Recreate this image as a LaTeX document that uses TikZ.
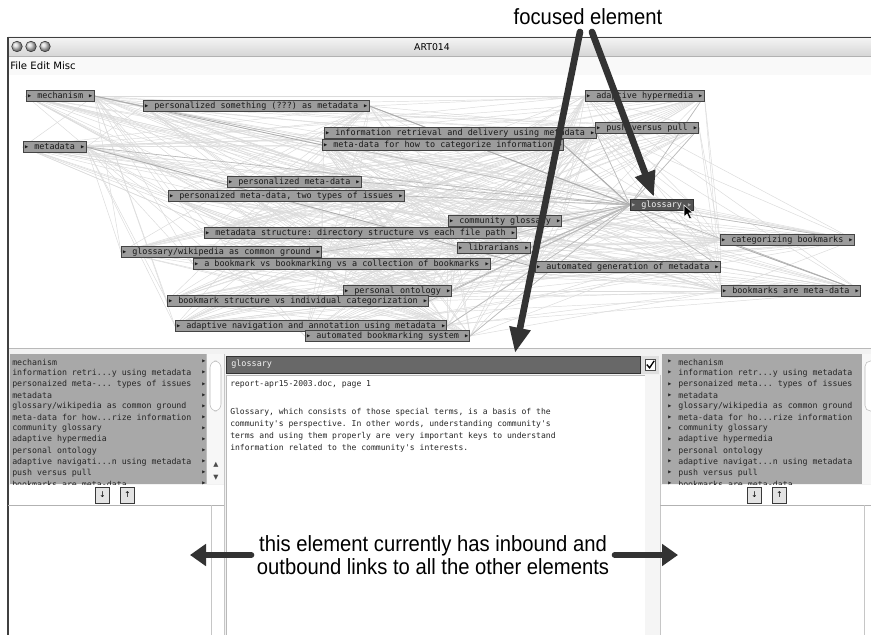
\documentclass[tikz,border=0pt]{standalone}
\usepackage{fontspec}
\setmainfont{Liberation Sans}
\setmonofont{DejaVu Sans Mono}
\newfontfamily\annotfont[FakeStretch=0.92]{Liberation Sans}
\newfontfamily\uifont{DejaVu Sans}
\usetikzlibrary{arrows.meta}
\pgfdeclarelayer{back}
\pgfdeclarelayer{edges}
\pgfsetlayers{back,edges,main}
\definecolor{nodefill}{HTML}{9C9C9C}
\definecolor{nodedraw}{HTML}{444444}
\definecolor{glfill}{HTML}{555555}
\definecolor{listgrey}{HTML}{A8A8A8}
\definecolor{hdrgrey}{HTML}{686868}
\definecolor{annot}{HTML}{333333}
\newcommand\nfont{\fontsize{6.35pt}{7pt}\selectfont\ttfamily}
\newcommand\lfont{\fontsize{6.2pt}{7pt}\selectfont\ttfamily}
\newcommand\dfont{\fontsize{6.05pt}{9pt}\selectfont\ttfamily}
\newcommand\gtx[1]{▸\ #1\ ▸}
\newcommand\ddd{.{}.{}.}
\begin{document}
\begin{tikzpicture}[x=0.75pt,y=-0.75pt,
  gnode/.style={draw=nodedraw, fill=nodefill, line width=0.6pt, inner xsep=0.5pt, inner ysep=0pt,
    anchor=west, font=\nfont, text=black!90, text height=5pt, text depth=1.4pt, minimum height=8.2pt},
  edge/.style={draw=gray!28, line width=0.35pt},
  dedge/.style={draw=gray!55, line width=0.45pt},
  litem/.style={font=\lfont, text=black!85, inner sep=0pt, anchor=west},
  btn/.style={draw=gray!45!black, fill=gray!22, minimum width=10.5pt, minimum height=12pt, inner sep=0pt, font=\uifont\fontsize{6pt}{7pt}\selectfont},
  bigarrow/.style={draw=annot, line width=5pt, line cap=round, -{Triangle[length=19pt,width=15pt]}},
  sidearrow/.style={draw=annot, line width=4.5pt, line cap=round, -{Triangle[length=12pt,width=16pt]}}
]
\useasboundingbox (0,0) rectangle (871,635);
\begin{pgfonlayer}{back}
  \fill[white] (0,0) rectangle (871,635);
  \shade[top color=gray!8, bottom color=gray!32] (8,37) rectangle (871,56);
  \fill[gray!5] (8,56) rectangle (871,75);
  \draw[gray!60] (8,56) -- (871,56);
  \draw[gray!60] (8,75) -- (871,75);
  \fill[white] (8,75.5) rectangle (871,348);
  \fill[gray!10] (8,348) rectangle (871,635);
  \draw[gray!55] (8,348.5) -- (871,348.5);
  \draw[black!75, line width=0.7pt] (8,37) -- (871,37);
  \draw[black!75, line width=0.8pt] (8,37) -- (8,635);
\end{pgfonlayer}

% window controls and title
\foreach \cx in {17,31,45} \shade[ball color=gray!35, draw=gray!40!black] (\cx,46.5) circle (5.3);
\node[font=\uifont\fontsize{7pt}{8pt}\selectfont] (title) at (432,47) {ART014};
\node[anchor=west, font=\uifont\fontsize{7.6pt}{8pt}\selectfont, inner sep=0pt] (menu) at (10,65.5) {File Edit Misc};

% graph nodes
\node[gnode] (mech)  at (26,96)  {\gtx{mechanism}};
\node[gnode] (pers)  at (143,106) {\gtx{personalized something (???) as metadata}};
\node[gnode] (info)  at (324,133) {\gtx{information retrieval and delivery using metadata}};
\node[gnode] (mdhow) at (322,145) {\gtx{meta-data for how to categorize information}};
\node[gnode] (meta)  at (23,147) {\gtx{metadata}};
\node[gnode] (pmd)   at (227,182) {\gtx{personalized meta-data}};
\node[gnode] (pmdb)  at (168,196) {\gtx{personaized meta-data, two types of issues}};
\node[gnode] (adhyp) at (585,96) {\gtx{adaptive hypermedia}};
\node[gnode] (push)  at (595,128) {\gtx{push versus pull}};
\node[gnode, fill=glfill, draw=black!80, text=gray!8] (gl) at (630,205) {\textcolor{gray!65}{▸}\ glossary\ \textcolor{gray!65}{▸}};
\node[gnode] (comm)  at (448,221) {\gtx{community glossary}};
\node[gnode] (mds)   at (204,233) {\gtx{metadata structure: directory structure vs each file path}};
\node[gnode] (lib)   at (457,248) {\gtx{librarians}};
\node[gnode] (gw)    at (121,252) {\gtx{glossary/wikipedia as common ground}};
\node[gnode] (abm)   at (193,264) {\gtx{a bookmark vs bookmarking vs a collection of bookmarks}};
\node[gnode] (agen)  at (535,267) {\gtx{automated generation of metadata}};
\node[gnode] (catb)  at (720,240) {\gtx{categorizing bookmarks}};
\node[gnode] (bamd)  at (721,291) {\gtx{bookmarks are meta-data}};
\node[gnode] (pont)  at (343,291) {\gtx{personal ontology}};
\node[gnode] (bstr)  at (167,301) {\gtx{bookmark structure vs individual categorization}};
\node[gnode] (anav)  at (175,326) {\gtx{adaptive navigation and annotation using metadata}};
\node[gnode] (abs)   at (305,336) {\gtx{automated bookmarking system}};

% connectors
\begin{pgfonlayer}{edges}
\begin{scope}
  \clip (8.5,76) rectangle (871,348);
  \foreach \a [count=\i] in {mech,pers,info,mdhow,meta,pmd,pmdb,adhyp,push,gl,comm,mds,lib,gw,abm,agen,catb,bamd,pont,bstr,anav,abs}{
    \foreach \b [count=\j] in {mech,pers,info,mdhow,meta,pmd,pmdb,adhyp,push,gl,comm,mds,lib,gw,abm,agen,catb,bamd,pont,bstr,anav,abs}{
      \ifnum\i<\j
        \draw[edge] (\a.east) -- (\b.west);
        \draw[edge] (\a.west) -- (\b.east);
      \fi
    }
  }
  \foreach \b in {mech,pers,info,mdhow,meta,pmd,pmdb,adhyp,push,comm,mds,lib,gw,abm,agen,catb,bamd,pont,bstr,anav,abs}
    \draw[dedge] (gl.west) -- (\b.east);
  \draw[draw=gray!65, line width=0.6pt] (mech.east) -- (mdhow.west);
  \draw[draw=gray!65, line width=0.6pt] (pers.east) -- (gl.west);
  \draw[draw=gray!65, line width=0.6pt] (meta.east) -- (agen.west);
  \draw[draw=gray!65, line width=0.6pt] (catb.west) -- (bamd.east);
  \draw[draw=gray!65, line width=0.6pt] (mdhow.east) -- (gl.west);
\end{scope}
\end{pgfonlayer}

% cursor
\filldraw[fill=black, draw=white, line width=0.4pt] (684,205) -- (684,217) -- (687,214) -- (689.5,219) -- (691.5,218) -- (689,213) -- (693,213) -- cycle;

% ---------- bottom: left list ----------
\begin{scope}
  \clip (10,354) rectangle (206,484);
  \fill[listgrey] (10,354) rectangle (206,484);
  \foreach \t [count=\k] in {mechanism,information retri\ddd y using metadata,personaized meta-\ddd\ types of issues,metadata,glossary/wikipedia as common ground,meta-data for how\ddd rize information,community glossary,adaptive hypermedia,personal ontology,adaptive navigati\ddd n using metadata,push versus pull,bookmarks are meta-data}{
    \node[litem] (l\k) at (12,350.9+11.1*\k) {\t};
    \node[litem] (lt\k) at (201,350.9+11.1*\k) {▸};
  }
\end{scope}
\fill[gray!6] (206,354) rectangle (225,484);
\draw[gray!50] (206,354) -- (206,484);
\draw[gray!55, fill=white, rounded corners=5pt] (210,361) rectangle (221,411);
\node[font=\uifont\fontsize{5pt}{6pt}\selectfont, text=black!70, inner sep=0pt] (lup) at (216,465) {▲};
\node[font=\uifont\fontsize{5pt}{6pt}\selectfont, text=black!70, inner sep=0pt] (ldn) at (216,478) {▼};
\fill[white] (8.5,485) rectangle (225,635);
\draw[gray!60] (8,505) -- (225,505);
\draw[gray!45] (211,505) -- (211,635);
\draw[gray!45] (224,354) -- (224,635);
\node[btn] (lbd) at (102.5,495) {↓};
\node[btn] (lbu) at (127.5,495) {↑};

% ---------- bottom: center panel ----------
\fill[white] (226,375) rectangle (645,635);
\draw[gray!55] (226,375) rectangle (645,636);
\fill[gray!8] (645,375) rectangle (660,635);
\draw[gray!45] (660,375) -- (660,635);
\fill[hdrgrey] (226,356) rectangle (640,373.5);
\draw[gray!40!black, line width=0.5pt] (226,356) rectangle (640,373.5);
\node[anchor=west, font=\nfont, text=gray!8, inner sep=0pt] (hdr) at (231,364.5) {glossary};
\fill[gray!25] (641,356) rectangle (659,374);
\draw[black!70, fill=white] (645,359.5) rectangle (655.5,370);
\draw[black, line width=1pt] (646.8,364.6) -- (649.6,367.8) -- (654.2,360.8);
\node[anchor=north west, font=\dfont, text=black!85, align=left, inner sep=0pt] (doc) at (230,380) {report-apr15-2003.doc, page 1\\[12pt]
Glossary, which consists of those special terms, is a basis of the\\
community's perspective. In other words, understanding community's\\
terms and using them properly are very important keys to understand\\
information related to the community's interests.};

% ---------- bottom: right list ----------
\begin{scope}
  \clip (662,354) rectangle (862,484);
  \fill[listgrey] (662,354) rectangle (862,484);
  \foreach \t [count=\k] in {mechanism,information retr\ddd y using metadata,personaized meta\ddd\ types of issues,metadata,glossary/wikipedia as common ground,meta-data for ho\ddd rize information,community glossary,adaptive hypermedia,personal ontology,adaptive navigat\ddd n using metadata,push versus pull,bookmarks are meta-data}{
    \node[litem] (rt\k) at (667,350.9+11.1*\k) {▸};
    \node[litem] (r\k) at (678,350.9+11.1*\k) {\t};
  }
\end{scope}
\fill[gray!6] (862,354) rectangle (871,484);
\draw[gray!55, fill=white, rounded corners=4pt] (865,361) rectangle (876,411);
\fill[white] (661,485) rectangle (871,635);
\draw[gray!60] (660,505) -- (871,505);
\draw[gray!45] (864,505) -- (864,635);
\node[btn] (rbd) at (754.5,495) {↓};
\node[btn] (rbu) at (779.5,495) {↑};

% ---------- annotations ----------
\node[font=\annotfont\fontsize{16.5pt}{17pt}\selectfont, text=black] (focus) at (588,17) {focused element};
\coordinate (fa) at (580,32);
\coordinate (fb) at (592,32);
\coordinate (tipgl) at (654,197);
\coordinate (tiphdr) at (515,353);
\draw[bigarrow] (fa) -- (tiphdr);
\draw[bigarrow] (fb) -- (tipgl);

\node[font=\annotfont\fontsize{16.5pt}{17.25pt}\selectfont, align=center, text=black, inner xsep=4pt] (note) at (433,555) {this element currently has inbound and\\outbound links to all the other elements};
\coordinate (la) at (190,555);
\coordinate (ra) at (678,555);
\draw[sidearrow] (note.west) -- (la);
\draw[sidearrow] (note.east) -- (ra);
\end{tikzpicture}
\end{document}
